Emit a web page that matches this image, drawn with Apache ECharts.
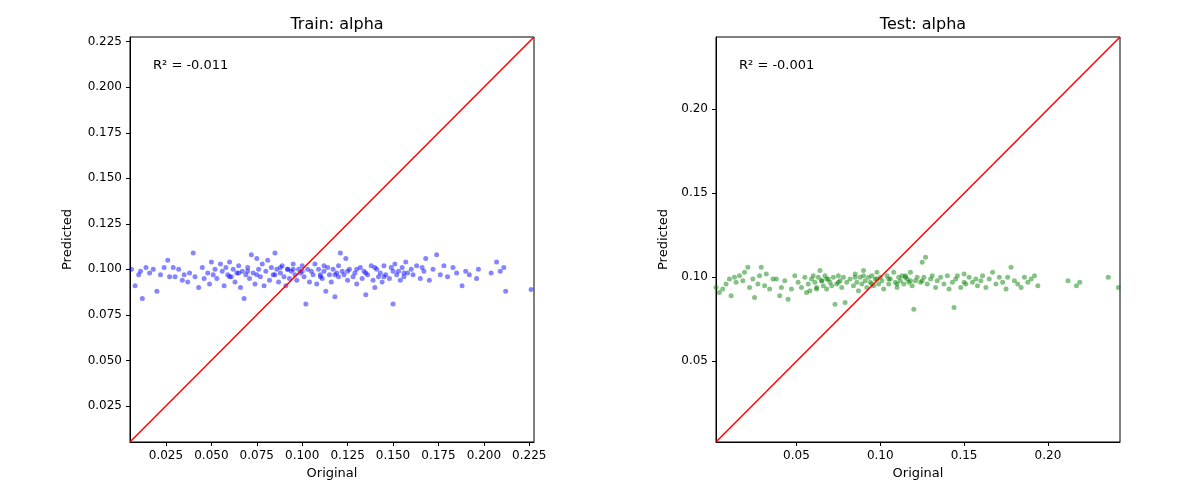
<!DOCTYPE html>
<html><head><meta charset="utf-8">
<script src="https://cdn.jsdelivr.net/npm/echarts@6/dist/echarts.min.js"></script>
<style>html,body{margin:0;padding:0;background:#fff}#c{width:1200px;height:500px}</style>
</head><body><div id="c"></div>
<script>
const trainX = [0.006,0.008,0.010,0.011,0.012,0.014,0.016,0.018,0.020,0.022,0.024,0.026,0.027,0.029,0.030,0.032,0.034,0.035,0.037,0.038,0.040,0.041,0.043,0.045,0.046,0.048,0.049,0.050,0.051,0.052,0.053,0.055,0.056,0.057,0.058,0.059,0.060,0.061,0.062,0.063,0.064,0.065,0.066,0.067,0.068,0.069,0.070,0.071,0.072,0.073,0.074,0.075,0.076,0.077,0.078,0.079,0.080,0.081,0.082,0.083,0.084,0.085,0.086,0.087,0.088,0.089,0.090,0.091,0.092,0.093,0.094,0.095,0.096,0.097,0.098,0.099,0.100,0.101,0.102,0.103,0.104,0.105,0.106,0.107,0.108,0.109,0.110,0.111,0.112,0.113,0.114,0.115,0.116,0.117,0.118,0.119,0.120,0.121,0.122,0.123,0.124,0.125,0.126,0.128,0.129,0.130,0.132,0.133,0.134,0.135,0.136,0.138,0.139,0.140,0.141,0.142,0.143,0.144,0.145,0.146,0.148,0.149,0.150,0.151,0.152,0.153,0.154,0.155,0.156,0.157,0.158,0.160,0.161,0.163,0.165,0.166,0.167,0.168,0.170,0.172,0.174,0.176,0.178,0.180,0.183,0.185,0.188,0.190,0.192,0.196,0.197,0.204,0.207,0.209,0.211,0.212,0.226,0.060,0.075,0.088,0.095,0.110,0.120,0.125,0.135,0.140,0.150,0.065,0.085,0.100,0.118,0.130,0.145,0.156,0.070,0.092,0.112];
const trainY = [0.100,0.091,0.097,0.099,0.084,0.101,0.098,0.100,0.088,0.097,0.101,0.105,0.096,0.101,0.096,0.100,0.094,0.097,0.093,0.098,0.109,0.096,0.090,0.101,0.095,0.098,0.092,0.104,0.097,0.100,0.095,0.103,0.099,0.091,0.101,0.097,0.104,0.096,0.100,0.093,0.098,0.102,0.090,0.099,0.084,0.097,0.101,0.095,0.108,0.098,0.092,0.106,0.100,0.096,0.103,0.091,0.099,0.105,0.094,0.101,0.097,0.109,0.100,0.093,0.098,0.102,0.096,0.091,0.100,0.095,0.099,0.103,0.097,0.094,0.100,0.098,0.102,0.096,0.081,0.100,0.093,0.099,0.097,0.103,0.092,0.100,0.096,0.095,0.099,0.088,0.101,0.097,0.093,0.100,0.085,0.098,0.096,0.109,0.099,0.097,0.106,0.094,0.100,0.096,0.098,0.092,0.101,0.095,0.099,0.086,0.097,0.102,0.094,0.090,0.100,0.096,0.098,0.093,0.102,0.097,0.095,0.101,0.081,0.103,0.097,0.099,0.094,0.101,0.096,0.104,0.098,0.100,0.097,0.102,0.095,0.101,0.099,0.106,0.094,0.100,0.108,0.097,0.102,0.096,0.101,0.098,0.091,0.099,0.097,0.095,0.100,0.098,0.104,0.099,0.101,0.088,0.089,0.096,0.097,0.101,0.100,0.097,0.102,0.099,0.098,0.101,0.099,0.098,0.097,0.099,0.097,0.100,0.096,0.098,0.099,0.100,0.102,0.097];
const testX = [0.002,0.004,0.006,0.008,0.010,0.011,0.013,0.014,0.016,0.018,0.019,0.021,0.022,0.024,0.025,0.027,0.028,0.029,0.031,0.032,0.034,0.036,0.038,0.040,0.041,0.043,0.045,0.047,0.049,0.051,0.053,0.055,0.056,0.057,0.058,0.059,0.060,0.061,0.062,0.063,0.064,0.065,0.066,0.067,0.068,0.069,0.070,0.071,0.072,0.073,0.074,0.075,0.076,0.077,0.078,0.079,0.080,0.082,0.084,0.085,0.086,0.087,0.088,0.089,0.090,0.091,0.092,0.093,0.094,0.095,0.096,0.097,0.098,0.099,0.100,0.101,0.102,0.104,0.105,0.106,0.108,0.109,0.110,0.111,0.112,0.113,0.114,0.115,0.116,0.117,0.118,0.119,0.120,0.121,0.122,0.124,0.125,0.126,0.127,0.128,0.130,0.131,0.133,0.134,0.136,0.138,0.140,0.141,0.143,0.144,0.145,0.146,0.148,0.150,0.151,0.153,0.155,0.157,0.158,0.160,0.161,0.163,0.165,0.167,0.169,0.171,0.173,0.175,0.176,0.178,0.180,0.182,0.184,0.186,0.188,0.190,0.192,0.194,0.212,0.217,0.219,0.236,0.242,0.062,0.068,0.075,0.090,0.098,0.110,0.118,0.150,0.065,0.085,0.095,0.105,0.115,0.125];
const testY = [0.094,0.091,0.093,0.096,0.099,0.089,0.100,0.097,0.101,0.098,0.103,0.106,0.094,0.099,0.088,0.096,0.101,0.106,0.095,0.102,0.093,0.099,0.099,0.089,0.094,0.098,0.087,0.093,0.101,0.097,0.094,0.100,0.091,0.096,0.092,0.099,0.101,0.097,0.094,0.100,0.104,0.098,0.095,0.101,0.093,0.099,0.097,0.095,0.100,0.084,0.096,0.101,0.098,0.094,0.100,0.085,0.097,0.099,0.095,0.102,0.097,0.092,0.100,0.096,0.104,0.098,0.094,0.100,0.097,0.101,0.095,0.099,0.103,0.096,0.100,0.098,0.093,0.101,0.096,0.099,0.103,0.097,0.094,0.100,0.098,0.101,0.096,0.100,0.099,0.097,0.103,0.095,0.081,0.098,0.100,0.097,0.109,0.100,0.112,0.096,0.099,0.101,0.094,0.098,0.100,0.096,0.101,0.093,0.097,0.082,0.099,0.101,0.094,0.102,0.096,0.100,0.097,0.099,0.095,0.098,0.101,0.094,0.099,0.103,0.096,0.100,0.097,0.093,0.100,0.106,0.098,0.096,0.094,0.100,0.097,0.099,0.101,0.095,0.098,0.095,0.097,0.100,0.094,0.093,0.099,0.097,0.101,0.099,0.096,0.098,0.097,0.098,0.100,0.096,0.099,0.101,0.098];
const trainTicks = [0.025,0.050,0.075,0.100,0.125,0.150,0.175,0.200,0.225];
const testXTicks = [0.05,0.10,0.15,0.20];
const testYTicks = [0.05,0.10,0.15,0.20];
const trainRange = [0.0052,0.2276];
const testRange = [0.0020,0.2430];
const zip=(a,b)=>a.map((v,i)=>[v,b[i]]);
const ax = (idx,range,ticks,dec,name,gap)=>({gridIndex:idx,type:'value',min:range[0],max:range[1],name:name,nameLocation:'middle',nameGap:gap,
  nameTextStyle:{color:'#000',fontSize:13,fontFamily:'DejaVu Sans'},
  axisLine:{show:true,onZero:false,lineStyle:{color:'#000'}},splitLine:{show:false},
  axisTick:{show:true,customValues:ticks,length:4,lineStyle:{color:'#000'}},
  axisLabel:{customValues:ticks,color:'#000',fontSize:12,fontFamily:'DejaVu Sans',formatter:v=>v.toFixed(dec)}});
const c=echarts.init(document.getElementById('c'));
c.setOption({animation:false,
 title:[{text:'Train: alpha',left:332,top:12,textAlign:'center',textStyle:{fontSize:16,fontWeight:'normal',color:'#000',fontFamily:'DejaVu Sans'}},
        {text:'Test: alpha',left:918,top:12,textAlign:'center',textStyle:{fontSize:16,fontWeight:'normal',color:'#000',fontFamily:'DejaVu Sans'}},
        {text:'R² = -0.011',left:148,top:54,textStyle:{fontSize:13,fontWeight:'normal',color:'#000',fontFamily:'DejaVu Sans'}},
        {text:'R² = -0.001',left:734,top:54,textStyle:{fontSize:13,fontWeight:'normal',color:'#000',fontFamily:'DejaVu Sans'}}],
 grid:[{left:130,top:37,width:404,height:405,show:true,borderColor:'#000',borderWidth:1},{left:716,top:37,width:404,height:405,show:true,borderColor:'#000',borderWidth:1}],
 xAxis:[ax(0,trainRange,trainTicks,3,'Original',24),ax(1,testRange,testXTicks,2,'Original',24)],
 yAxis:[ax(0,trainRange,trainTicks,3,'Predicted',56),ax(1,testRange,testYTicks,2,'Predicted',46)],
 series:[
  {type:'scatter',xAxisIndex:0,yAxisIndex:0,data:zip(trainX,trainY),symbolSize:5,itemStyle:{color:'rgba(0,0,255,0.6)'}},
  {type:'line',xAxisIndex:0,yAxisIndex:0,data:[[trainRange[0],trainRange[0]],[trainRange[1],trainRange[1]]],symbol:'none',lineStyle:{color:'red',width:1.5}},
  {type:'scatter',xAxisIndex:1,yAxisIndex:1,data:zip(testX,testY),symbolSize:5,itemStyle:{color:'rgba(0,128,0,0.6)'}},
  {type:'line',xAxisIndex:1,yAxisIndex:1,data:[[testRange[0],testRange[0]],[testRange[1],testRange[1]]],symbol:'none',lineStyle:{color:'red',width:1.5}}
 ]});
</script></body></html>
